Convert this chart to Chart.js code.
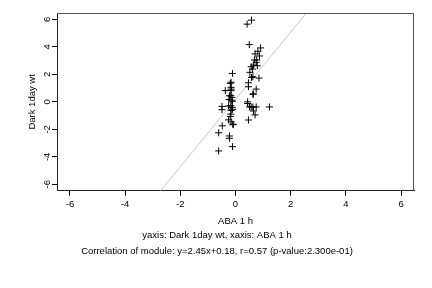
<!DOCTYPE html>
<html>
<head>
<meta charset="utf-8">
<script src="https://cdn.jsdelivr.net/npm/chart.js@4/dist/chart.umd.min.js"></script>
<style>
  html, body { margin: 0; padding: 0; background: #fff; }
  #wrap { width: 432px; height: 288px; }
</style>
</head>
<body>
<div id="wrap"><canvas id="scatter"></canvas></div>
<script>
// values
const xVals = [0.42, 0.58, 0.50, 0.91, 0.81, 0.71, 0.87, 0.69, 0.77, 0.75, 0.65, 0.79, 0.57, 0.62, 0.52,
  -0.11, 0.63, 0.58, 0.85, 0.47, 0.47, 0.75, 0.63, 0.65,
  -0.16, -0.19, -0.16, -0.37, -0.16, -0.16, -0.22, -0.17, -0.13, -0.24, -0.15, -0.11,
  -0.49, -0.49, -0.25, -0.17, -0.12, -0.11, -0.16, -0.17, -0.19, -0.25, -0.16, -0.10, -0.08,
  -0.48, -0.61, -0.22, -0.22, -0.11, -0.61,
  0.44, 0.44, 0.51, 0.57, 0.63, 0.75, 1.23, 0.65, 0.71, 0.47];
const yVals = [5.66, 5.95, 4.17, 3.93, 3.68, 3.49, 3.34, 3.05, 3.05, 2.88, 2.68, 2.63, 2.56, 2.39, 2.15,
  2.07, 1.83, 1.78, 1.73, 1.39, 1.10, 0.93, 0.56, 0.58,
  1.43, 1.35, 1.06, 0.82, 0.93, 0.82, 0.44, 0.45, 0.33, 0.17, 0.12, 0.05,
  -0.33, -0.57, -0.30, -0.28, -0.40, -0.54, -0.62, -0.89, -1.06, -1.31, -1.45, -1.62, -1.66,
  -1.74, -2.25, -2.48, -2.65, -3.26, -3.57,
  0.00, -0.12, -0.37, -0.37, -0.37, -0.37, -0.37, -0.66, -0.95, -1.32];
const tickVals = [-6, -4, -2, 0, 2, 4, 6];
const axisMin = -6.47, axisMax = 6.47;
const slope = 2.45, intercept = 0.18;
const xLabel = 'ABA 1 h';
const yLabel = 'Dark 1day wt';
const captions = ['yaxis: Dark 1day wt, xaxis: ABA 1 h',
  'Correlation of module: y=2.45x+0.18, r=0.57 (p-value:2.300e-01)'];

const FONT = 'Liberation Sans, Arial, sans-serif';
const FSIZE = 9.5;
Chart.defaults.font.family = FONT;
Chart.defaults.font.size = FSIZE;
Chart.defaults.color = '#000';

const points = xVals.map((x, i) => ({ x: x, y: yVals[i] }));
const fitLine = [axisMin, axisMax].map(x => ({ x: x, y: slope * x + intercept }));

// rotated y tick labels (R style) and the outer box
const rPlot = {
  id: 'rPlot',
  afterDraw(chart) {
    const ctx = chart.ctx;
    const a = chart.chartArea;
    const ys = chart.scales.y;
    ctx.save();
    ctx.strokeStyle = '#555';
    ctx.lineWidth = 1;
    ctx.beginPath();
    ctx.moveTo(a.left, a.top + 0.5);
    ctx.lineTo(a.right - 0.5, a.top + 0.5);
    ctx.lineTo(a.right - 0.5, a.bottom);
    ctx.stroke();
    ctx.fillStyle = '#000';
    ctx.font = FSIZE + 'px ' + FONT;
    ctx.textAlign = 'center';
    ctx.textBaseline = 'middle';
    tickVals.forEach(v => {
      ctx.save();
      ctx.translate(ys.right - 10, ys.getPixelForValue(v));
      ctx.rotate(-Math.PI / 2);
      ctx.fillText(String(v), 0, 0);
      ctx.restore();
    });
    ctx.restore();
  }
};

new Chart(document.getElementById('scatter'), {
  type: 'scatter',
  data: {
    datasets: [
      {
        data: fitLine,
        showLine: true,
        borderColor: '#c8c8c8',
        borderWidth: 1,
        pointRadius: 0,
        order: 2
      },
      {
        data: points,
        pointStyle: 'cross',
        pointRadius: 3.5,
        borderColor: '#000',
        borderWidth: 1,
        order: 1
      }
    ]
  },
  options: {
    responsive: true,
    maintainAspectRatio: false,
    animation: false,
    layout: { padding: { left: 20, right: 18, top: 13, bottom: 28 } },
    plugins: {
      legend: { display: false },
      tooltip: { enabled: false },
      title: {
        display: true,
        position: 'bottom',
        text: captions,
        font: { size: FSIZE, weight: 'normal', lineHeight: 1.75 },
        padding: { top: 0, bottom: 0 }
      }
    },
    scales: {
      x: {
        type: 'linear',
        min: axisMin,
        max: axisMax,
        afterBuildTicks: s => { s.ticks = tickVals.map(v => ({ value: v })); },
        afterFit: s => { s.height = 36; },
        grid: { drawOnChartArea: false, drawTicks: true, tickLength: 5, tickColor: '#000' },
        border: { color: '#222' },
        ticks: { padding: 3 },
        title: { display: true, text: xLabel, padding: { top: 1, bottom: 0 } }
      },
      y: {
        type: 'linear',
        min: axisMin,
        max: axisMax,
        afterBuildTicks: s => { s.ticks = tickVals.map(v => ({ value: v })); },
        afterFit: s => { s.width = 37; },
        grid: { drawOnChartArea: false, drawTicks: true, tickLength: 5, tickColor: '#000' },
        border: { color: '#222' },
        ticks: { color: 'rgba(0,0,0,0)' },
        title: { display: true, text: yLabel, padding: { top: 7, bottom: 0 } }
      }
    }
  },
  plugins: [rPlot]
});
</script>
</body>
</html>
